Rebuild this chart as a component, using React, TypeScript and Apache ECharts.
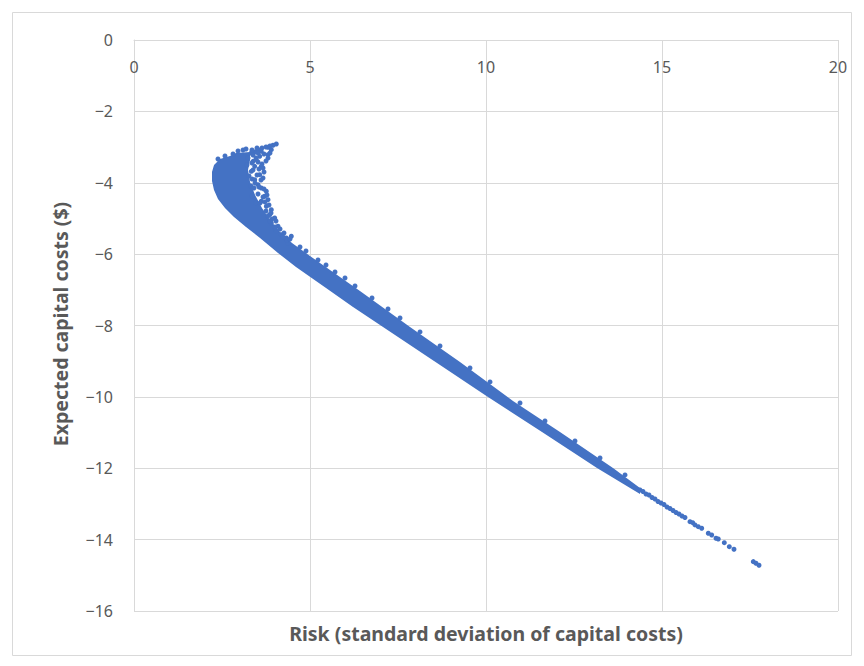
import React, { useEffect, useRef } from "react";
import * as echarts from "echarts";

// Axis ticks
const xTicks = [0, 5, 10, 15, 20];
const yTicks = [0, -2, -4, -6, -8, -10, -12, -14, -16];

// Dense core of the cloud: lower-left edge (top -> bottom)
const lowerEdge: number[][] = [
  [2.727, -3.25], [2.443, -3.334], [2.273, -3.502], [2.216, -3.699], [2.216, -3.951],
  [2.273, -4.203], [2.386, -4.455], [2.585, -4.707], [2.841, -4.959], [3.182, -5.24],
  [3.58, -5.548], [4.091, -5.968], [4.602, -6.36], [5.455, -6.949], [6.222, -7.481],
  [6.989, -7.985], [8.523, -8.994], [10.057, -10.003], [11.591, -10.983], [13.153, -11.992],
  [14.375, -12.721],
];

// Dense core: upper-right edge (bottom -> top)
const upperEdge: number[][] = [
  [14.375, -12.553], [13.608, -11.992], [12.102, -10.983], [10.767, -10.115], [9.261, -9.022],
  [7.841, -8.041], [6.42, -7.033], [5.0, -6.052], [4.489, -5.688], [4.148, -5.38],
  [3.864, -5.043], [3.636, -4.707], [3.438, -4.343], [3.296, -3.979], [3.239, -3.642],
  [3.296, -3.362], [3.296, -3.138], [2.898, -3.166],
];

// Scattered portfolios in the upper hook
const hookPoints: number[][] = [
  [4.043, -2.914], [3.949, -2.95], [3.807, -3.006], [3.901, -3.074], [3.807, -3.214],
  [3.616, -3.119], [3.523, -3.074], [3.429, -3.138], [3.332, -3.166], [3.571, -3.259],
  [3.474, -3.354], [3.381, -3.399], [3.616, -3.539], [3.665, -3.586], [3.429, -3.539],
  [3.332, -3.679], [3.571, -3.774], [3.665, -3.867], [3.429, -3.914], [3.523, -4.054],
  [3.616, -4.147], [3.759, -4.239], [3.713, -4.379], [3.807, -4.475], [3.616, -4.519],
  [3.759, -4.66], [3.901, -4.755], [3.855, -4.895], [3.997, -4.987], [3.901, -5.127],
  [4.091, -5.22], [4.043, -5.36], [4.185, -5.455], [4.327, -5.548], [4.375, -5.688],
  [4.469, -5.5], [3.21, -3.502], [3.267, -3.811], [3.324, -4.091], [3.352, -4.371],
  [3.466, -4.567], [3.239, -3.306], [3.097, -3.082], [2.955, -3.11], [3.182, -3.054],
  [2.813, -3.194], [2.585, -3.25], [2.386, -3.334],
  [3.352, -3.082], [3.494, -3.026], [3.636, -3.026], [3.75, -2.998], [3.864, -2.97],
  [3.381, -3.222], [3.523, -3.166], [3.693, -3.194], [3.864, -3.166], [3.807, -3.306],
  [3.466, -3.306], [3.352, -3.446], [3.523, -3.418], [3.636, -3.474], [3.75, -3.39],
  [3.381, -3.642], [3.551, -3.614], [3.693, -3.698], [3.494, -3.782], [3.352, -3.895],
  [3.608, -3.923], [3.438, -4.007], [3.409, -4.147], [3.551, -4.119], [3.693, -4.175],
  [3.523, -4.315], [3.665, -4.399], [3.778, -4.343], [3.58, -4.567], [3.722, -4.539],
  [3.835, -4.623], [3.75, -4.791], [3.892, -4.847], [3.807, -4.931], [3.92, -5.015],
  [4.034, -5.071], [3.864, -5.071], [4.006, -5.24], [4.148, -5.296], [4.261, -5.408],
  [4.347, -5.604], [4.432, -5.576], [4.233, -5.52],
];

// Portfolios sticking out along the upper edge of the band
const edgePoints: number[][] = [
  [4.716, -5.8], [4.886, -5.912], [5.227, -6.164], [5.455, -6.304], [5.71, -6.5],
  [5.994, -6.669], [6.278, -6.893], [6.761, -7.229], [7.216, -7.537], [7.557, -7.789],
  [8.125, -8.181], [8.693, -8.574], [9.545, -9.19], [10.114, -9.582], [10.966, -10.171],
  [11.676, -10.675], [12.528, -11.236], [13.239, -11.712], [13.949, -12.188],
];

// Thin tail of the cloud
const tailPoints: number[][] = [
  [14.375, -12.609], [14.46, -12.651], [14.545, -12.721], [14.631, -12.749], [14.716, -12.819],
  [14.801, -12.861], [14.886, -12.931], [14.972, -12.973], [15.057, -13.015], [15.142, -13.085],
  [15.227, -13.127], [15.313, -13.183], [15.398, -13.239], [15.483, -13.281], [15.568, -13.337],
  [15.653, -13.379], [15.795, -13.497], [15.872, -13.525], [15.938, -13.589], [16.031, -13.637],
  [16.128, -13.682], [16.315, -13.822], [16.412, -13.87], [16.534, -13.962], [16.599, -13.982],
  [16.77, -14.085], [16.912, -14.197], [17.045, -14.27], [17.594, -14.617], [17.67, -14.662],
  [17.756, -14.718],
];

const BLUE = "#4472C4";
const TEXT = "#595959";
const FONT = "'Noto Sans', 'DejaVu Sans', sans-serif";

const fmt = (v: number) => (v < 0 ? "\u2212" + Math.abs(v) : String(v));

export default function App() {
  const ref = useRef<HTMLDivElement>(null);
  useEffect(() => {
    if (!ref.current) return;
    const chart = echarts.init(ref.current, undefined, { renderer: "svg" });
    const outline = lowerEdge.concat(upperEdge);
    const dot = { symbol: "circle", symbolSize: 5, itemStyle: { color: BLUE, opacity: 1 } };
    chart.setOption({
      animation: false,
      backgroundColor: "#ffffff",
      grid: { left: 134, right: 26, top: 40, bottom: 55, containLabel: false },
      xAxis: {
        type: "value",
        position: "top",
        min: xTicks[0],
        max: xTicks[xTicks.length - 1],
        interval: 5,
        axisLine: { show: true, lineStyle: { color: "#D9D9D9", width: 1 } },
        axisTick: { show: false },
        axisLabel: { inside: true, margin: 19, color: TEXT, fontSize: 16, fontFamily: FONT, formatter: fmt },
        splitLine: { show: true, lineStyle: { color: "#D9D9D9", width: 1 } },
      },
      yAxis: {
        type: "value",
        min: yTicks[yTicks.length - 1],
        max: yTicks[0],
        interval: 2,
        axisLine: { show: true, lineStyle: { color: "#D9D9D9", width: 1 } },
        axisTick: { show: false },
        axisLabel: { margin: 21, color: TEXT, fontSize: 16, fontFamily: FONT, formatter: fmt },
        splitLine: { show: true, lineStyle: { color: "#D9D9D9", width: 1 } },
      },
      graphic: [
        {
          type: "rect",
          shape: { x: 12.5, y: 12.5, width: 839, height: 643 },
          style: { fill: "none", stroke: "#D9D9D9", lineWidth: 1 },
          silent: true,
          z: -10,
        },
        {
          type: "text",
          x: 486,
          y: 633,
          style: {
            text: "Risk (standard deviation of capital costs)",
            fill: TEXT,
            font: `bold 19.5px ${FONT}`,
            textAlign: "center",
            textVerticalAlign: "middle",
          },
        },
        {
          type: "text",
          x: 60,
          y: 324,
          rotation: Math.PI / 2,
          style: {
            text: "Expected capital costs ($)",
            fill: TEXT,
            font: `bold 19.5px ${FONT}`,
            textAlign: "center",
            textVerticalAlign: "middle",
          },
        },
      ],
      series: [
        {
          type: "custom",
          name: "core",
          silent: true,
          data: [[outline[0][0], outline[0][1]]],
          renderItem: (_params: any, api: any) => ({
            type: "polygon",
            shape: { points: outline.map((p) => api.coord(p)) },
            style: { fill: BLUE },
          }),
        },
        { type: "scatter", name: "hook", ...dot, data: hookPoints },
        { type: "scatter", name: "edge", ...dot, data: edgePoints },
        { type: "scatter", name: "tail", ...dot, data: tailPoints },
      ],
    });
    return () => chart.dispose();
  }, []);
  return (
    <div
      ref={ref}
      style={{ position: "fixed", left: 0, top: 0, width: 864, height: 666, background: "#fff" }}
    />
  );
}
